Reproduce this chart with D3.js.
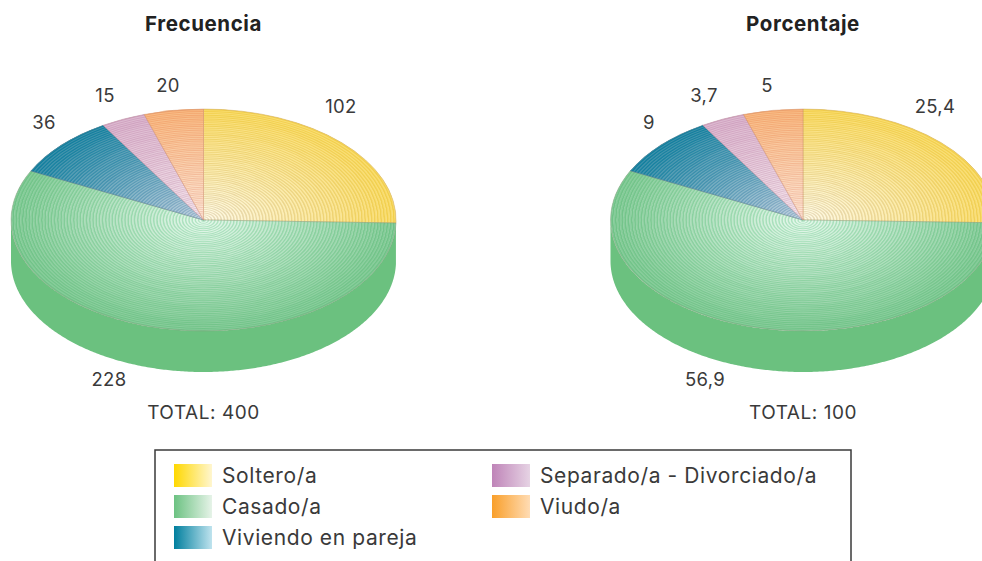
<!DOCTYPE html>
<html><head><meta charset="utf-8">
<script src="https://cdn.jsdelivr.net/npm/d3@7"></script>
<style>html,body{margin:0;background:#fff;overflow:hidden}svg{display:block}text{font-family:Inter,sans-serif;fill:#3a3a3a}</style>
</head><body><svg id="c" width="982" height="561"></svg>
<script>
const categories=["Soltero/a","Casado/a","Viviendo en pareja","Separado/a - Divorciado/a","Viudo/a"];
const frecuencia=[102,228,36,15,20];
const porcentaje=[25.4,56.9,9,3.7,5];
const frecuenciaLabels=["102","228","36","15","20"];
const porcentajeLabels=["25,4","56,9","9","3,7","5"];
const stripeOuter=["#f2cf4a","#6fc286","#0d7e9d","#cfa0bf","#f3a56c"];
const stripeInner=["#e8dcc0","#b4e6c6","#9cb4cc","#e3c9d6","#f3c9b8"];
const gapOuter=["#f9dc6e","#84cb98","#3a8fa9","#dcb9cf","#f8bb84"];
const gapInner=["#fffbe8","#e6f8ec","#c3d3e0","#f6e8ee","#fdeadc"];
const legendStart=["#ffd800","#6cc282","#007f9e","#bf84b8","#f99f2a"];
const legendEnd=["#fff6cf","#e6f3e8","#bfe3ee","#e6d3e4","#ffdcb4"];

const svg=d3.select("#c");
const defs=svg.append("defs");
const rx=192.5, ry=111, depth=41, step=1.6;
const pie=d3.pie().sort(null).value(d=>d);
const arc=d3.arc().innerRadius(0).outerRadius(1);

function drawPie(id,cx,cy,title,values,labels,offsets,total){
  const g=svg.append("g");
  const arcs=pie(values);
  const wall=(a0,a1,fill)=>{
    const t=d3.range(a0,a1,0.01).concat([a1]);
    const pts=t.map(a=>[cx+rx*Math.sin(a),cy-ry*Math.cos(a)]).concat(t.slice().reverse().map(a=>[cx+rx*Math.sin(a),cy-ry*Math.cos(a)+depth]));
    g.append("path").attr("d",d3.line()(pts)+"Z").attr("fill",fill);
  };
  wall(Math.PI/2,arcs[0].endAngle,"#7f9f8f");
  wall(arcs[1].startAngle,Math.min(arcs[1].endAngle,Math.PI*1.5),"#6bc17f");
  arcs.forEach((d,i)=>{
    const cid=id+"-s"+i;
    defs.append("clipPath").attr("id",cid).append("path")
      .attr("d",arc(d)).attr("transform",`translate(${cx},${cy}) scale(${rx},${ry})`);
    const s=g.append("g").attr("clip-path",`url(#${cid})`);
    const sc=d3.scaleLinear().domain([0,1]).range([stripeInner[i],stripeOuter[i]]);
    const gc=d3.scaleLinear().domain([0,1]).range([gapInner[i],gapOuter[i]]);
    const rings=d3.range(1,Math.ceil(rx/step)+2).reverse();
    s.selectAll("ellipse").data(rings).join("ellipse")
      .attr("cx",cx).attr("cy",cy).attr("rx",k=>k*step).attr("ry",k=>k*step*ry/rx)
      .attr("fill","none")
      .attr("stroke",k=>(k%2?sc:gc)(Math.min(1,k*step/rx)))
      .attr("stroke-width",step+0.35);
    g.append("path").attr("d",arc(d)).attr("transform",`translate(${cx},${cy}) scale(${rx},${ry})`)
      .attr("fill","none").attr("stroke",d3.interpolateRgb(stripeOuter[i],"#a07070")(0.5)).attr("stroke-width",0.8).attr("vector-effect","non-scaling-stroke").attr("stroke-opacity",0.55);
  });
  svg.append("text").attr("x",cx).attr("y",31).attr("text-anchor","middle").attr("font-size",20.5).attr("font-weight",700).attr("letter-spacing",0.6).style("fill","#222").text(title);
  labels.forEach((t,i)=>{
    svg.append("text").attr("x",cx+offsets[i][0]).attr("y",cy+offsets[i][1]+6.5).attr("text-anchor","middle").attr("font-size",18.5).attr("letter-spacing",0.3).text(t);
  });
  svg.append("text").attr("x",cx).attr("y",419).attr("text-anchor","middle").attr("font-size",19).attr("letter-spacing",0.55).text(total);
}
drawPie("a",203.5,220,"Frecuencia",frecuencia,frecuenciaLabels,[[137.5,-114],[-94.5,159],[-159.5,-98],[-98.5,-125],[-35.5,-135]],"TOTAL: 400");
drawPie("b",803,220,"Porcentaje",porcentaje,porcentajeLabels,[[132,-114],[-98,159],[-154,-98],[-99,-125],[-36,-135]],"TOTAL: 100");

svg.append("rect").attr("x",155).attr("y",450).attr("width",696).attr("height",130).attr("fill","#fff").attr("stroke","#3a3a3a").attr("stroke-width",1.5);
const legendX=d3.scaleOrdinal().domain(categories).range([174,174,174,492,492]);
const legendY=d3.scaleOrdinal().domain(categories).range([464,495,526,464,495]);
categories.forEach((c,i)=>{
  const gid="lg"+i;
  const lg=defs.append("linearGradient").attr("id",gid);
  lg.append("stop").attr("offset","0").attr("stop-color",legendStart[i]);
  lg.append("stop").attr("offset","1").attr("stop-color",legendEnd[i]);
  svg.append("rect").attr("x",legendX(c)).attr("y",legendY(c)).attr("width",38).attr("height",23).attr("fill",`url(#${gid})`);
  svg.append("text").attr("x",legendX(c)+48).attr("y",legendY(c)+18.5).attr("font-size",21).attr("letter-spacing",0.6).text(c);
});
</script></body></html>
